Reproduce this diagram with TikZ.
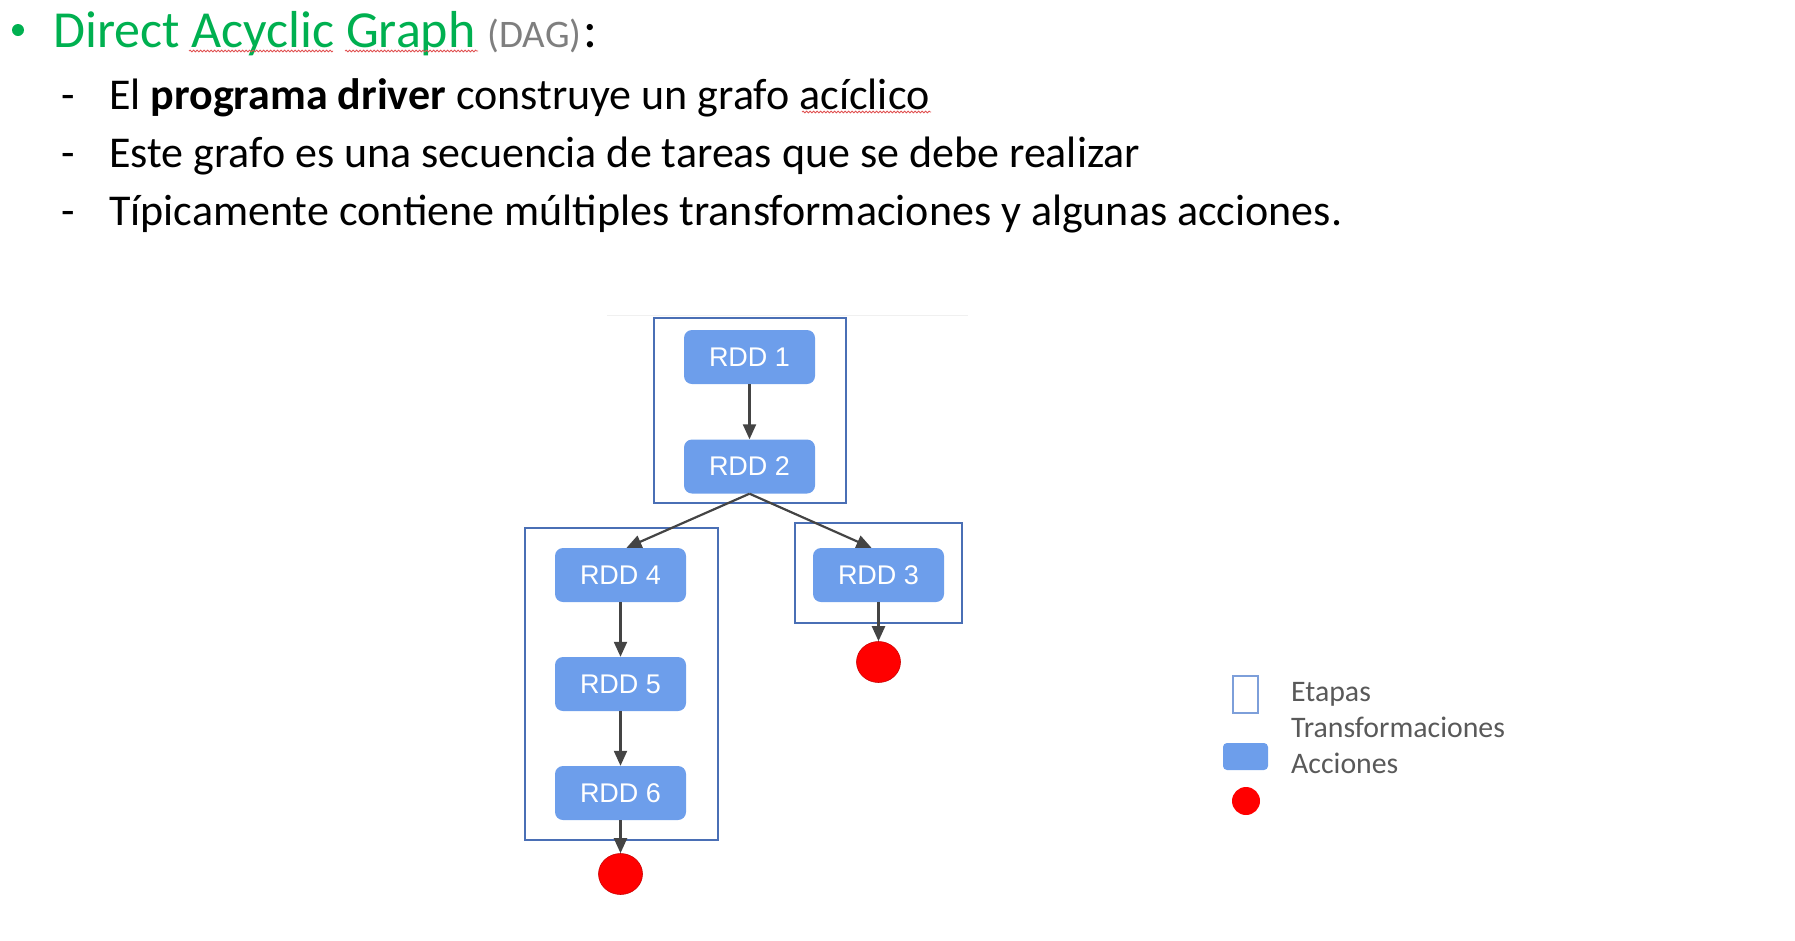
\documentclass[tikz,border=0pt]{standalone}
\usepackage{fontspec}
\setmainfont{Carlito}
\newfontfamily\arialfont{Liberation Sans}
\usetikzlibrary{arrows.meta,shapes.geometric,decorations.pathmorphing}
\definecolor{titlegreen}{HTML}{00B050}
\definecolor{daggray}{HTML}{7F7F7F}
\definecolor{leggray}{HTML}{595959}
\definecolor{rddblue}{HTML}{6D9EEB}
\definecolor{stageblue}{HTML}{4A6FB5}
\definecolor{legblue}{HTML}{7D9FDA}
\definecolor{arrowgray}{HTML}{444444}
\definecolor{actred}{HTML}{FF0000}
\definecolor{squig}{HTML}{E05050}
\tikzset{
  txt/.style={inner sep=0pt, anchor=base west},
  rddbox/.style={rectangle, rounded corners=8pt, fill=rddblue, text=white,
    minimum width=131pt, minimum height=54pt, inner sep=0pt,
    font=\arialfont\fontsize{27}{30}\selectfont},
  stagebox/.style={rectangle, draw=stageblue, line width=2.4pt, inner sep=0pt},
  actdot/.style={ellipse, fill=actred, draw=red!80!black, line width=0.6pt,
    minimum width=44pt, minimum height=41pt, inner sep=0pt},
  flow/.style={draw=arrowgray, line width=2.2pt, -{Triangle[length=15pt,width=13pt]}},
  spell/.style={draw=squig, line width=0.8pt, decorate,
    decoration={snake, amplitude=0.9pt, segment length=3.5pt}}
}
\begin{document}
\begin{tikzpicture}[x=1pt,y=-1pt]
\useasboundingbox (0,0) rectangle (1795,940);
% heading
\node[circle, fill=titlegreen, minimum size=12pt, inner sep=0pt] (bul) at (18,30) {};
\node[txt] (title) at (53,47) {\fontsize{52}{60}\selectfont{\color{titlegreen}Direct Acyclic Graph}\hspace{12pt}{\fontsize{39}{44}\selectfont\color{daggray}(DAG)}\hspace{2pt}:};
\draw[spell] (189,51) -- (333,51);
\draw[spell] (345,51) -- (478,51);
% bullet lines
\node[txt] (d1) at (61,109) {\fontsize{44}{50}\selectfont -};
\node[txt] (d2) at (61,167) {\fontsize{44}{50}\selectfont -};
\node[txt] (d3) at (61,225) {\fontsize{44}{50}\selectfont -};
\node[txt] (l1) at (109,109) {\fontsize{44}{50}\selectfont El \textbf{programa driver} construye un grafo acíclico};
\node[txt] (l2) at (109,167) {\fontsize{44}{50}\selectfont Este grafo es una secuencia de tareas que se debe realizar};
\node[txt] (l3) at (109,225) {\fontsize{44}{50}\selectfont Típicamente contiene múltiples transformaciones y algunas acciones.};
\draw[spell] (802,112) -- (931,112);
% faint image edge
\draw[black!6, line width=1pt] (607,315) -- (968,315);
% stages
\node[stagebox, minimum width=192pt, minimum height=185pt] (s1) at (750,410.5) {};
\node[stagebox, minimum width=193pt, minimum height=312pt] (s2) at (621.5,684) {};
\node[stagebox, minimum width=167pt, minimum height=100pt] (s3) at (878.5,573) {};
% RDDs
\node[rddbox] (r1) at (749.5,357) {RDD 1};
\node[rddbox] (r2) at (749.5,466.5) {RDD 2};
\node[rddbox] (r4) at (620.5,575) {RDD 4};
\node[rddbox] (r5) at (620.5,684) {RDD 5};
\node[rddbox] (r6) at (620.5,793) {RDD 6};
\node[rddbox] (r3) at (878.5,575) {RDD 3};
% actions
\node[actdot] (a1) at (878.5,662) {};
\node[actdot] (a2) at (620.5,874) {};
% connectors
\draw[flow] (r1.south) -- (r2.north);
\draw[flow] (r2.south) -- ([xshift=6pt]r4.north);
\draw[flow] (r2.south) -- ([xshift=-7pt]r3.north);
\draw[flow] (r4.south) -- (r5.north);
\draw[flow] (r5.south) -- (r6.north);
\draw[flow] (r3.south) -- (a1.north);
\draw[flow] (r6.south) -- (a2.north);
% legend
\node[rectangle, draw=legblue, line width=2.6pt, minimum width=25pt, minimum height=37pt, inner sep=0pt] (lg1) at (1245.5,694.5) {};
\node[rectangle, rounded corners=4pt, fill=rddblue, minimum width=45pt, minimum height=27pt, inner sep=0pt] (lg2) at (1245.5,756.5) {};
\node[circle, fill=actred, minimum size=28pt, inner sep=0pt] (lg3) at (1246,801) {};
\node[txt, text=leggray] (t1) at (1291,701) {\fontsize{29.8}{34}\selectfont Etapas};
\node[txt, text=leggray] (t2) at (1291,737) {\fontsize{29.8}{34}\selectfont Transformaciones};
\node[txt, text=leggray] (t3) at (1291,773) {\fontsize{29.8}{34}\selectfont Acciones};
\end{tikzpicture}
\end{document}
